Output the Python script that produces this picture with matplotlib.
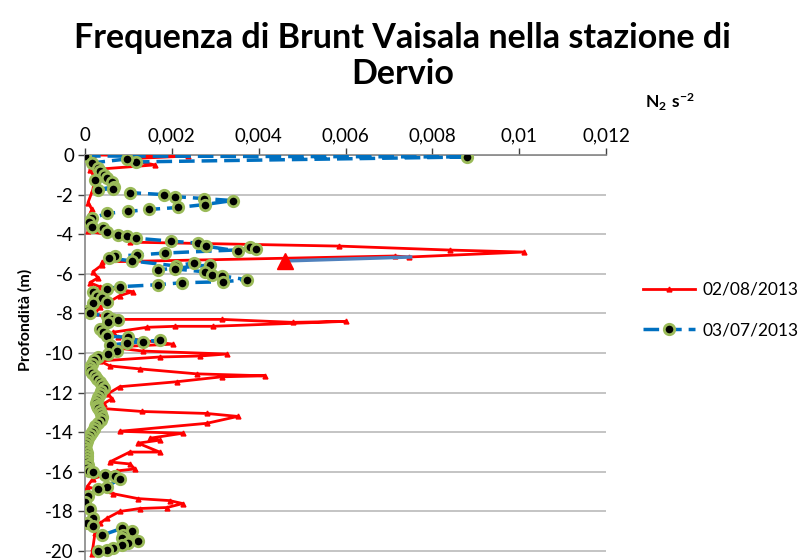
import numpy as np
import matplotlib
matplotlib.use('Agg')
import matplotlib.pyplot as plt
from matplotlib.ticker import FuncFormatter, MultipleLocator

plt.rcParams['font.family'] = ['Lato', 'DejaVu Sans']
plt.rcParams['mathtext.fontset'] = 'custom'
plt.rcParams['mathtext.rm'] = 'Lato'
plt.rcParams['mathtext.bf'] = 'Lato:bold'

# 02/08/2013 profile (N2 in s^-2, depth in m)
red_n2 = [0.00018, 0.00237, 0.00092, 0.00161, 0.00011, 0.00023, 0.00018, 0.00007,
          0.00016, 0.00005, 0.00007, 0.00074, 0.00103, 0.00586, 0.0084, 0.0101,
          0.00747, 0.00713, 0.0004, 0.00039, 0.00018, 0.0003, 0.00011, 0.00034,
          0.0011, 0.0008, 0.00057, 0.00034, 0.00023, 0.00057, 0.00315, 0.00478,
          0.006, 0.00294, 0.00207, 0.00143, 0.00064, 0.00076, 0.00202, 0.00057,
          0.00133, 0.00326, 0.00264, 0.00172, 0.00034, 0.00057, 0.00126, 0.00257,
          0.00414, 0.00315, 0.00211, 0.0008, 0.00053, 0.00062, 0.00044, 0.00041,
          0.00131, 0.0028, 0.00352, 0.0028, 0.0008, 0.00225, 0.0015, 0.00172,
          0.00122, 0.00172, 0.00103, 0.00057, 0.00103, 0.00115, 0.00074, 0.00018,
          0.00005, 0.00064, 0.00122, 0.00195, 0.00225, 0.00189, 0.00126, 0.0008,
          0.0005, 0.00034, 0.00023, 0.00018, 0.00016]
red_depth = [0.0, -0.05, -0.2, -0.5, -0.75, -1.15, -1.75, -2.4,
             -2.75, -3.25, -3.85, -4.1, -4.4, -4.6, -4.8, -4.9,
             -5.15, -5.1, -5.4, -5.55, -5.9, -6.2, -6.45, -6.65,
             -6.9, -7.1, -7.4, -7.7, -8.0, -8.3, -8.3, -8.45,
             -8.4, -8.65, -8.65, -8.7, -8.95, -9.2, -9.55, -9.7,
             -9.9, -10.05, -10.15, -10.2, -10.4, -10.65, -10.8, -11.05,
             -11.15, -11.2, -11.45, -11.7, -12.05, -12.3, -12.55, -12.8,
             -12.95, -13.05, -13.2, -13.55, -13.95, -14.05, -14.3, -14.4,
             -14.55, -15.0, -15.0, -15.5, -15.6, -15.85, -15.95, -16.35,
             -16.75, -17.1, -17.35, -17.45, -17.6, -17.8, -17.85, -18.0,
             -18.35, -18.6, -19.1, -19.85, -20.15]

# 03/07/2013 profile
blue_n2 = [0.0, 0.0088, 0.00117, 0.00097, 0.00016, 0.0003, 0.00034, 0.00044,
           0.0005, 0.00023, 0.00062, 0.00067, 0.0003, 0.00064, 0.00103, 0.00182,
           0.00207, 0.00274, 0.0034, 0.00276, 0.00214, 0.00147, 0.00099, 0.0005,
           0.00016, 0.0001, 0.00016, 0.00041, 0.0005, 0.00076, 0.00097, 0.00117,
           0.00198, 0.0026, 0.00278, 0.00352, 0.0038, 0.00395, 0.00184, 0.0012,
           0.00069, 0.00055, 0.00108, 0.00209, 0.0025, 0.00288, 0.00168, 0.00207,
           0.00276, 0.00292, 0.00315, 0.00373, 0.00317, 0.00223, 0.00168, 0.0008,
           0.0005, 0.00018, 0.00028, 0.00039, 0.0005, 0.00018, 0.00005, 0.00011,
           0.0005, 0.00062, 0.00076, 0.00053, 0.00034, 0.00041, 0.0005, 0.00099,
           0.00133, 0.00172, 0.00097, 0.00058, 0.00074, 0.00053, 0.0003, 0.0002,
           0.00016, 0.00012, 0.00011, 0.00016, 0.00022, 0.00028, 0.00034, 0.0004,
           0.00044, 0.00038, 0.00034, 0.0003, 0.00028, 0.00026, 0.00028, 0.0003,
           0.00034, 0.00038, 0.0004, 0.00036, 0.0003, 0.00024, 0.0002, 0.00016,
           0.00012, 0.00008, 0.00005, 0.00002, 0.0, 0.00002, 0.00004, 0.00004,
           0.00004, 0.00005, 0.00006, 0.00005, 0.0001, 0.00018, 0.00046, 0.00069,
           0.0008, 0.0005, 0.0003, 0.00007, 0.0, 0.00011, 0.00018, 0.00005,
           0.00018, 0.00039, 0.00085, 0.00108, 0.00087, 0.00085, 0.00122, 0.00099,
           0.00085, 0.00064, 0.0005, 0.0003]
blue_depth = [-0.05, -0.1, -0.35, -0.2, -0.4, -0.65, -0.8, -1.0,
              -1.15, -1.25, -1.35, -1.6, -1.75, -1.7, -1.9, -2.0,
              -2.1, -2.2, -2.3, -2.5, -2.65, -2.75, -2.85, -2.95,
              -3.2, -3.4, -3.65, -3.7, -3.9, -4.05, -4.1, -4.2,
              -4.35, -4.45, -4.6, -4.85, -4.65, -4.75, -4.95, -5.05,
              -5.1, -5.2, -5.35, -5.6, -5.45, -5.55, -5.8, -5.75,
              -5.9, -6.05, -6.1, -6.3, -6.4, -6.45, -6.55, -6.65,
              -6.75, -6.9, -7.1, -7.2, -7.4, -7.45, -7.9, -8.0,
              -8.15, -8.3, -8.35, -8.45, -8.8, -8.95, -9.15, -9.2,
              -9.45, -9.35, -9.5, -9.6, -9.9, -10.05, -10.2, -10.35,
              -10.55, -10.7, -10.85, -11.0, -11.15, -11.3, -11.45, -11.6,
              -11.75, -11.9, -12.05, -12.2, -12.35, -12.5, -12.65, -12.8,
              -12.95, -13.1, -13.25, -13.4, -13.55, -13.7, -13.85, -14.0,
              -14.15, -14.3, -14.45, -14.6, -14.75, -14.9, -15.05, -15.2,
              -15.35, -15.5, -15.65, -15.8, -15.95, -16.0, -16.15, -16.2,
              -16.35, -16.75, -16.85, -17.2, -17.5, -17.85, -18.35, -18.6,
              -18.75, -19.2, -18.85, -19.0, -19.2, -19.35, -19.5, -19.6,
              -19.7, -19.85, -19.95, -20.0]

# isolated segment with the large marker
extra_n2 = [0.0046, 0.0075]
extra_depth = [-5.35, -5.15]

x_ticks = [0, 0.002, 0.004, 0.006, 0.008, 0.01, 0.012]
y_ticks = [0, -2, -4, -6, -8, -10, -12, -14, -16, -18, -20]

fig = plt.figure(figsize=(8.05, 5.6), dpi=100)
ax = fig.add_axes([85 / 805, 0.0, (606 - 85) / 805, 405 / 560])

ax.plot(red_n2, red_depth, color='#FF0000', lw=2, marker='^', ms=3.5,
        label='02/08/2013', zorder=3)
ax.plot(blue_n2, blue_depth, color='#0070C0', lw=2.5, ls=(0, (4.5, 2)),
        marker='o', ms=7.5, mfc='black', mec='#9BBB59', mew=2,
        label='03/07/2013', zorder=4)
ax.plot(extra_n2, extra_depth, color='#4F81BD', lw=2.5, zorder=5)
ax.plot(extra_n2[:1], extra_depth[:1], ls='none', marker='^', ms=12,
        color='#FF0000', zorder=6)

ax.set_xlim(0, 0.012)
ax.set_ylim(-20.45, 0)
ax.set_xticks(x_ticks)
ax.set_yticks(y_ticks)
ax.xaxis.tick_top()
ax.xaxis.set_major_formatter(FuncFormatter(
    lambda v, p: '0' if v == 0 else ('%g' % v).replace('.', ',')))
ax.yaxis.set_major_formatter(FuncFormatter(lambda v, p: '%d' % v))
ax.tick_params(axis='both', labelsize=13.5, colors='#404040', length=5,
               width=1, labelcolor='black', direction='out', pad=3)
ax.grid(axis='y', color='#BFBFBF', lw=1.3)
ax.set_axisbelow(True)
for s in ['right', 'bottom']:
    ax.spines[s].set_visible(False)
for s in ['top', 'left']:
    ax.spines[s].set_color('#868686')
    ax.spines[s].set_linewidth(1.2)

ax.set_ylabel('Profondità (m)', fontsize=11.5, fontweight='bold')
ax.yaxis.set_label_coords(-0.1, 0.593)
fig.text(645 / 805, 1 - 108 / 560, r'$\mathbf{N_2\ s^{-2}}$', fontsize=12.5,
         ha='left', va='baseline')

fig.text(0.5, 1 - 48 / 560, 'Frequenza di Brunt Vaisala nella stazione di',
         fontsize=24.5, fontweight='bold', ha='center', va='baseline')
fig.text(0.5, 1 - 84 / 560, 'Dervio',
         fontsize=24.5, fontweight='bold', ha='center', va='baseline')

leg = fig.legend(loc='center left', bbox_to_anchor=(643 / 805, 1 - 310 / 560),
                 frameon=False, fontsize=12.5, handlelength=3.0,
                 labelspacing=1.4, handletextpad=0.45, borderpad=0,
                 borderaxespad=0)

fig.savefig('out.png', dpi=100)
